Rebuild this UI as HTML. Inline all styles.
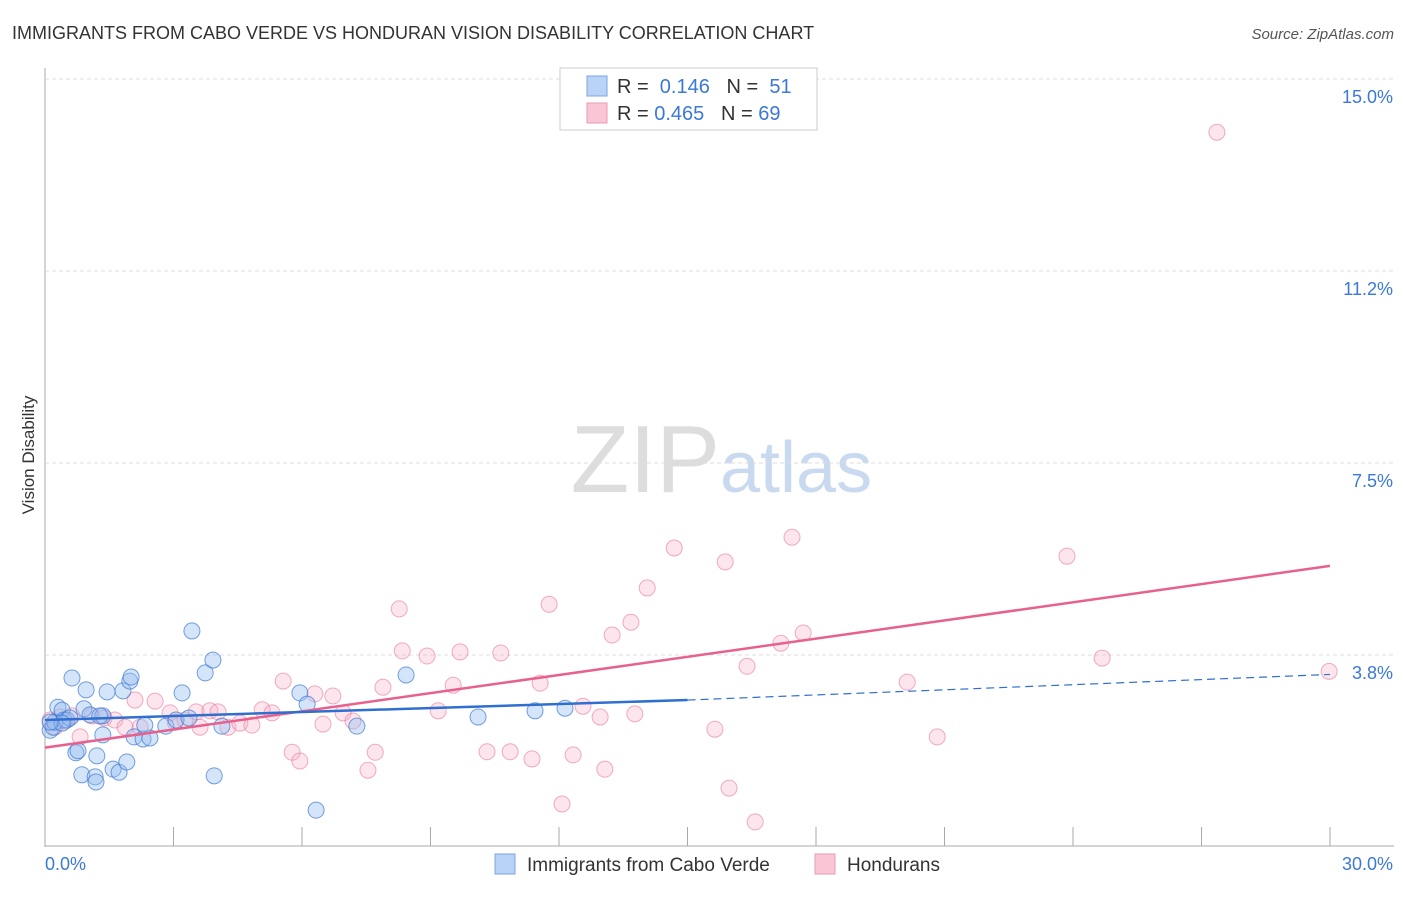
<!DOCTYPE html>
<html><head><meta charset="utf-8"><style>
body{margin:0;background:#fff;font-family:"Liberation Sans",sans-serif}
svg text{font-family:"Liberation Sans",sans-serif}
</style></head><body>
<svg id="c" width="1406" height="892">
<text x="12" y="39" font-size="18" fill="#333">IMMIGRANTS FROM CABO VERDE VS HONDURAN VISION DISABILITY CORRELATION CHART</text>
<text x="1394" y="39" font-size="15" fill="#555" font-style="italic" text-anchor="end">Source: ZipAtlas.com</text>
<text x="34" y="455" font-size="17" fill="#333" transform="rotate(-90 34 455)" text-anchor="middle">Vision Disability</text>
<text x="720" y="492" font-size="96" fill="#ddd" text-anchor="end" font-family="Liberation Serif">ZIP</text>
<text x="720" y="492" font-size="72" fill="#c9daf0">atlas</text>
<g id="grid"></g><g id="pts"></g><g id="lines"></g>
<g>
<rect x="560" y="68" width="257" height="62" fill="#fff" stroke="#ccc"/>
<rect x="587" y="76" width="20" height="20" fill="#b8d3f5" stroke="#7aa6e0"/>
<rect x="587" y="103" width="20" height="20" fill="#f9c6d5" stroke="#ec9ab4"/>
<text x="617" y="93" font-size="20" fill="#333">R = <tspan fill="#3b78d8">&#160;0.146</tspan>&#160;&#160;&#160;N = <tspan fill="#3b78d8">&#160;51</tspan></text>
<text x="617" y="120" font-size="20" fill="#333">R = <tspan fill="#3b78d8">0.465</tspan>&#160;&#160;&#160;N = <tspan fill="#3b78d8">69</tspan></text>
</g>
<g>
<rect x="495" y="854" width="20" height="20" fill="#b8d3f5" stroke="#7aa6e0"/>
<text x="527" y="871" font-size="19" fill="#333">Immigrants from Cabo Verde</text>
<rect x="815" y="854" width="20" height="20" fill="#f9c6d5" stroke="#ec9ab4"/>
<text x="847" y="871" font-size="19" fill="#333">Hondurans</text>
</g>
</svg>
<script>
const yTicks=[3.8,7.5,11.2,15.0];
const xTickLabels=["0.0%","30.0%"];
const blueX=[0.12,0.19,0.23,0.30,0.40,0.44,0.51,0.63,0.72,0.77,0.86,0.91,0.96,1.05,1.17,1.19,1.21,1.35,1.35,1.45,1.59,1.73,1.82,1.91,1.98,2.01,2.08,2.29,2.45,2.82,3.06,3.20,3.36,3.43,3.74,3.92,3.95,4.13,5.95,6.12,6.33,7.28,8.43,10.11,11.44,12.14,0.58,0.40,1.28,2.33,0.12];
const blueY=[2.28,2.34,2.44,2.73,2.67,2.48,2.48,3.30,1.84,1.88,1.41,2.70,3.07,2.58,1.37,1.27,1.78,2.19,2.56,3.03,1.52,1.46,3.05,1.66,3.24,3.32,2.15,2.11,2.13,2.36,2.48,3.01,2.52,4.22,3.40,3.65,1.39,2.36,3.01,2.79,0.72,2.36,3.36,2.54,2.66,2.71,2.52,2.42,2.56,2.38,2.44];
const pinkX=[0.12,0.23,0.35,0.47,0.63,0.82,1.10,1.38,1.63,1.87,2.10,2.22,2.57,2.92,3.04,3.27,3.53,3.62,3.85,4.04,4.27,4.55,4.83,5.07,5.30,5.56,5.77,5.95,6.30,6.49,6.72,6.96,7.19,7.54,7.71,7.89,8.27,8.34,8.92,9.18,9.53,9.69,10.32,10.64,10.86,11.37,11.56,11.77,12.07,12.33,12.56,12.96,13.07,13.24,13.68,13.77,14.06,14.69,15.64,15.88,15.97,16.39,16.58,17.18,17.44,17.70,20.13,20.83,23.86,24.68,27.36,29.98];
const pinkY=[2.48,2.34,2.54,2.46,2.56,2.15,2.56,2.52,2.48,2.34,2.87,2.34,2.85,2.62,2.44,2.48,2.64,2.34,2.66,2.64,2.34,2.42,2.38,2.68,2.62,3.24,1.85,1.68,2.99,2.40,2.95,2.62,2.46,1.50,1.85,3.12,4.65,3.83,3.73,2.66,3.16,3.81,1.86,3.79,1.86,1.72,3.20,4.74,0.84,1.80,2.75,2.54,1.52,4.14,4.39,2.60,5.06,5.84,2.30,5.57,1.15,3.53,0.49,3.98,6.05,4.18,3.22,2.15,5.68,3.69,13.96,3.43];
const pinkTrend=[0,1.94,30,5.49];
const blueTrend=[0,2.48,15,2.87,30,3.37];
const X=v=>45+v*1285/30, Y=v=>847-v*51.2;
const NS="http://www.w3.org/2000/svg";
function mk(p,t,a){const e=document.createElementNS(NS,t);for(const k in a)e.setAttribute(k,a[k]);document.getElementById(p).appendChild(e);return e;}
const ax=mk('grid','line',{x1:45,y1:68,x2:45,y2:847,stroke:'#aaa'});


const bx=mk('grid','line',{x1:45,y1:846,x2:1394,y2:846,stroke:'#aaa'});


const gl=[3.75,7.5,11.25,15.0];
gl.forEach((g,i)=>{const l=mk('grid','line',{x1:45,y1:Y(g),x2:1394,y2:Y(g),stroke:'#ddd','stroke-dasharray':'4,3'});


const t=mk('grid','text',{x:1393,y:Y(g)+24,'font-size':18,fill:'#3b78d8','text-anchor':'end'});t.textContent=yTicks[i].toFixed(1)+'%';

});
for(let i=1;i<=10;i++){const l=mk('grid','line',{x1:X(i*3),y1:827,x2:X(i*3),y2:846,stroke:'#aaa'});

}
const t0=mk('grid','text',{x:45,y:870,'font-size':18,fill:'#3b78d8'});t0.textContent=xTickLabels[0];


const t1=mk('grid','text',{x:1393,y:870,'font-size':18,fill:'#3b78d8','text-anchor':'end'});t1.textContent=xTickLabels[1];


pinkX.forEach((v,i)=>{const c=mk('pts','circle',{cx:X(v),cy:Y(pinkY[i]),r:8,fill:'rgba(246,170,195,0.3)',stroke:'rgba(232,120,155,0.6)'});

});
blueX.forEach((v,i)=>{const c=mk('pts','circle',{cx:X(v),cy:Y(blueY[i]),r:8,fill:'rgba(150,190,240,0.4)',stroke:'rgba(60,120,210,0.7)'});

});
const pl=mk('lines','line',{x1:X(pinkTrend[0]),y1:Y(pinkTrend[1]),x2:X(pinkTrend[2]),y2:Y(pinkTrend[3]),stroke:'#e8608e','stroke-width':2.5});


const bl=mk('lines','line',{x1:X(blueTrend[0]),y1:Y(blueTrend[1]),x2:X(blueTrend[2]),y2:Y(blueTrend[3]),stroke:'#2f6fd0','stroke-width':2.5});


const bd=mk('lines','line',{x1:X(blueTrend[2]),y1:Y(blueTrend[3]),x2:X(blueTrend[4]),y2:Y(blueTrend[5]),stroke:'#2f6fd0','stroke-width':1.2,'stroke-dasharray':'8,5'});


</script>
</body></html>
